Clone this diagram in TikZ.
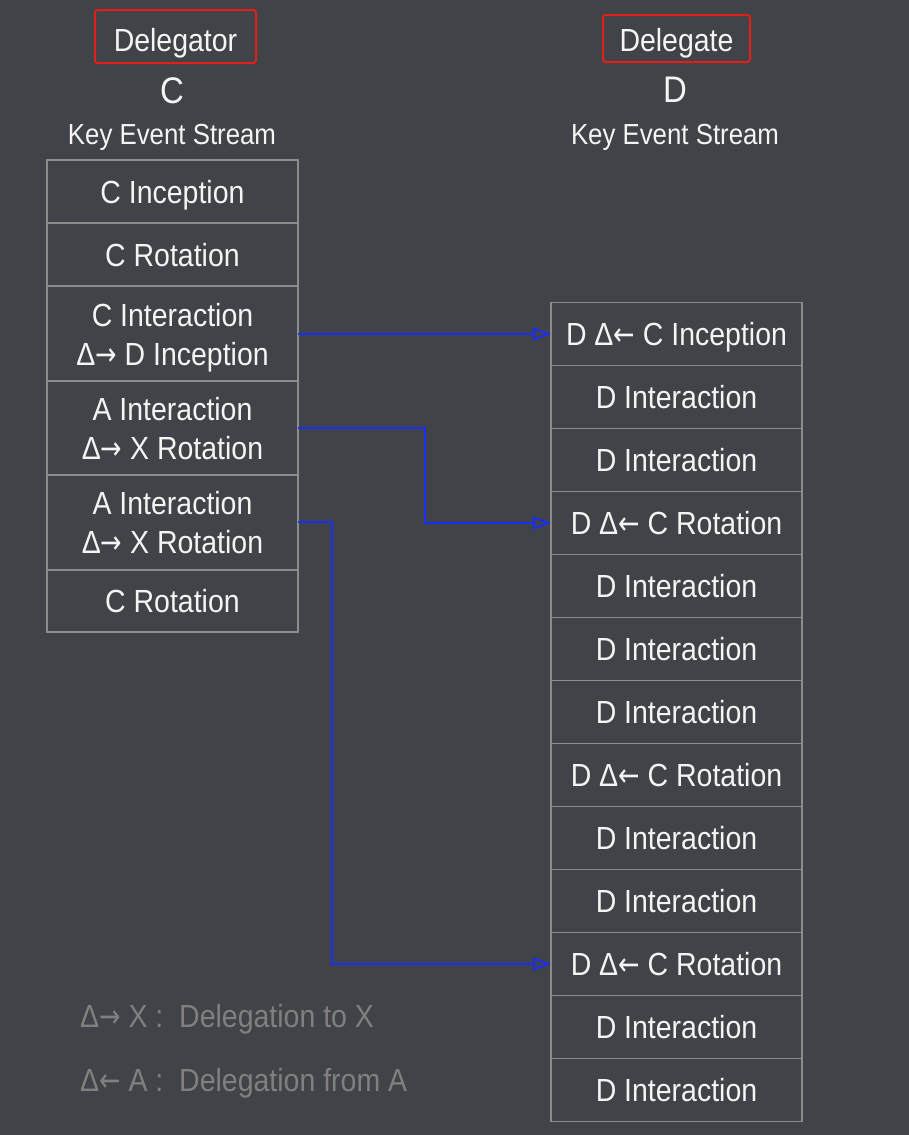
\documentclass[tikz,border=0pt]{standalone}
\usepackage{fontspec}
\setmainfont{Liberation Sans}[FakeStretch=0.89]
\newfontfamily\arrowfont{DejaVu Sans}[FakeStretch=0.8]
\newcommand{\toarr}{{\arrowfont →}}
\newcommand{\fromarr}{{\arrowfont ←}}
\usetikzlibrary{arrows.meta}
\definecolor{bg}{HTML}{404347}
\definecolor{edge}{HTML}{8C8C8C}
\definecolor{fg}{HTML}{F4F4F4}
\definecolor{lnk}{RGB}{25,45,255}
\definecolor{legendc}{HTML}{808080}
\definecolor{hdr}{HTML}{E0201A}
\begin{document}
\begin{tikzpicture}[x=1pt,y=-1pt,
  cell/.style={draw=edge, line width=1.8pt, minimum width=251pt, inner sep=0pt, outer sep=0pt},
  celltext/.style={text=fg, font=\fontsize{32}{39}\selectfont, align=center, inner sep=0pt, text depth=0pt},
  hdrbox/.style={draw=hdr, line width=2pt, rounded corners=2.5pt, inner sep=0pt},
  hdrtext/.style={text=fg, font=\fontsize{32}{38}\selectfont, inner sep=0pt, text depth=0pt},
  bigletter/.style={text=fg, font=\fontsize{37}{40}\selectfont, inner sep=0pt, text depth=0pt},
  streamlabel/.style={text=fg, font=\fontsize{29}{34}\selectfont, inner sep=0pt, text depth=0pt},
  legendtext/.style={text=legendc, font=\fontsize{32}{38}\selectfont, inner sep=0pt, anchor=west, text depth=0pt},
  link/.style={draw=lnk, line width=2pt, -{Triangle[open, length=18pt, width=13pt, line width=1.8pt]}}
]
\fill[bg] (0,0) rectangle (909,1135);
\useasboundingbox (0,0) rectangle (909,1135);

% headers
\node[hdrbox, minimum width=161pt, minimum height=53pt,
  label={[hdrtext, yshift=-3.5pt]center:Delegator}] (delegator) at (175.5,36.5) {};
\node[bigletter] (cl) at (172,90.5) {C};
\node[streamlabel] (ckes) at (172,134) {Key Event Stream};
\node[hdrbox, minimum width=147pt, minimum height=47pt,
  label={[hdrtext, yshift=-1pt]center:Delegate}] (delegate) at (676.5,38.5) {};
\node[bigletter] (dl) at (675,90) {D};
\node[streamlabel] (dkes) at (675,134.5) {Key Event Stream};

% left stream
\node[cell, minimum height=63pt, label={[celltext]center:C Inception}] (l1) at (172.5,191.5) {};
\node[cell, minimum height=63pt, label={[celltext]center:C Rotation}] (l2) at (172.5,254.5) {};
\node[cell, minimum height=95pt, label={[celltext]center:C Interaction\\Δ\toarr{} D Inception}] (l3) at (172.5,334) {};
\node[cell, minimum height=94pt, label={[celltext]center:A Interaction\\Δ\toarr{} X Rotation}] (l4) at (172.5,428) {};
\node[cell, minimum height=95pt, label={[celltext]center:A Interaction\\Δ\toarr{} X Rotation}] (l5) at (172.5,522) {};
\node[cell, minimum height=62pt, label={[celltext]center:C Rotation}] (l6) at (172.5,601) {};

% right stream
\foreach \i/\t in {1/{D Δ\fromarr{} C Inception},2/{D Interaction},3/{D Interaction},4/{D Δ\fromarr{} C Rotation},
  5/{D Interaction},6/{D Interaction},7/{D Interaction},8/{D Δ\fromarr{} C Rotation},9/{D Interaction},
  10/{D Interaction},11/{D Δ\fromarr{} C Rotation},12/{D Interaction},13/{D Interaction}}
  \node[cell, minimum height=63pt, label={[celltext]center:\t}] (r\i) at (676.5,{271+63*\i}) {};

% links
\draw[link] (l3.east) -- (r1.west);
\coordinate (b1) at (425,428);
\draw[link] (l4.east) -- (b1) |- (r4.west);
\coordinate (b2) at (332,522);
\draw[link] (l5.east) -- (b2) |- (r11.west);

% legend
\node[legendtext] (lg1) at (80,1016) {Δ\toarr{} X :~ Delegation to X};
\node[legendtext] (lg2) at (80,1080) {Δ\fromarr{} A :~ Delegation from A};
\end{tikzpicture}
\end{document}
